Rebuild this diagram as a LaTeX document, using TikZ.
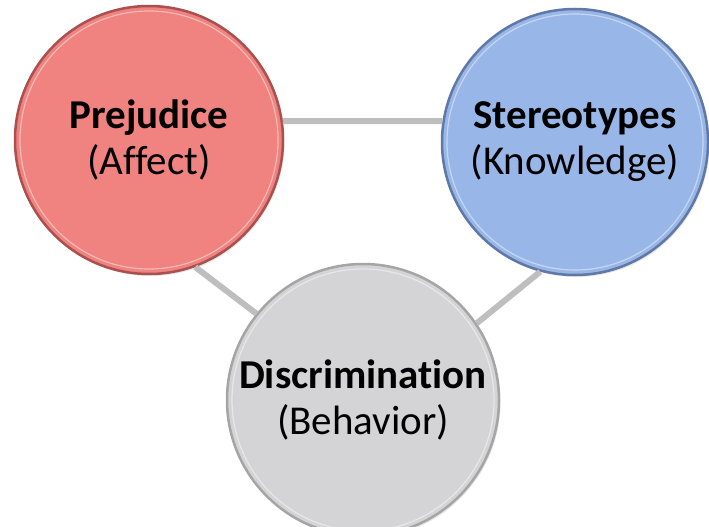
\documentclass[tikz,border=0pt]{standalone}
\usepackage{fontspec}
\setmainfont{Carlito}[Ligatures=NoCommon]
\usetikzlibrary{shadows}

\definecolor{prejfill}{RGB}{240,130,128}
\definecolor{prejline}{RGB}{170,80,78}
\definecolor{sterfill}{RGB}{152,182,232}
\definecolor{sterline}{RGB}{95,120,165}
\definecolor{discfill}{RGB}{212,212,214}
\definecolor{discline}{RGB}{165,165,165}
\definecolor{linkgray}{RGB}{190,190,190}

\begin{document}
\begin{tikzpicture}[x=1pt,y=1pt,
        bubble/.style={circle,inner sep=0pt,align=center,line width=2.5pt,
            drop shadow={opacity=0.2,shadow xshift=1.5pt,shadow yshift=-2pt},
            font=\fontsize{41}{46}\selectfont},
        shine/.style={white,opacity=0.45,line width=1.2pt},
        link/.style={linkgray,line width=6pt}]
        \useasboundingbox (0,0) rectangle (709,-527);

        % Centres of the three parts
        \coordinate (pl) at (149,-140);
        \coordinate (sl) at (575,-142);
        \coordinate (dl) at (363,-400);

        % The three circles
        \node[bubble,minimum size=268pt,fill=prejfill,draw=prejline] (prej) at (pl)
            {\textbf{Prejudice}\\(Affect)};
        \node[bubble,minimum size=266pt,fill=sterfill,draw=sterline] (ster) at (sl)
            {\textbf{Stereotypes}\\(Knowledge)};
        \node[bubble,minimum size=272pt,fill=discfill,draw=discline] (disc) at (dl)
            {\textbf{Discrimination}\\(Behavior)};

        % Bevel highlight just inside each rim
        \draw[shine] (prej) circle (129pt);
        \draw[shine] (ster) circle (128pt);
        \draw[shine] (disc) circle (131pt);

        % Connectors, edge to edge
        \draw[link] (prej.8) -- (ster.171);
        \draw[link] (prej.-70) -- (disc.141);
        \draw[link] (ster.-105) -- (disc.34);
    \end{tikzpicture}
\end{document}
